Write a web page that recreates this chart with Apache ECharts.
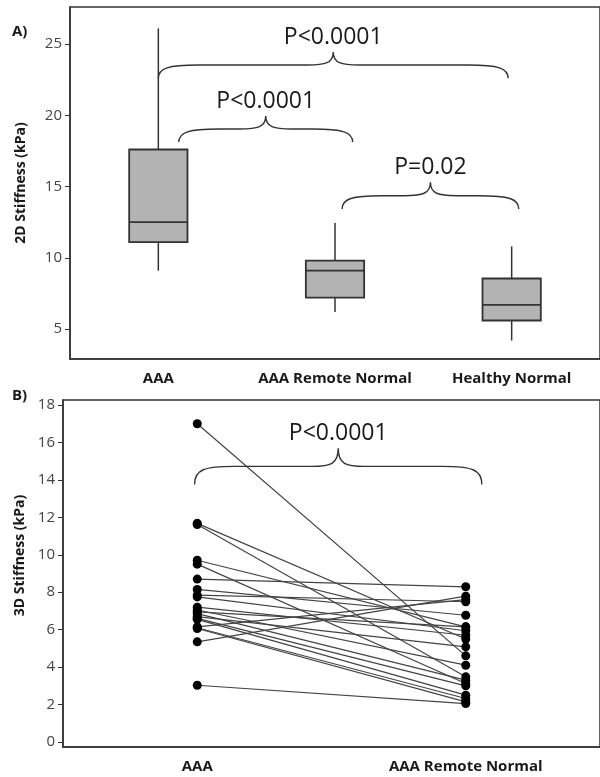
<!DOCTYPE html>
<html>
<head>
<meta charset="utf-8">
<script src="https://cdn.jsdelivr.net/npm/echarts@6/dist/echarts.min.js"></script>
<style>html,body{margin:0;padding:0;background:#fff;}#c{width:600px;height:777px;}</style>
</head>
<body>
<div id="c"></div>
<script>
// ---- Panel A data (2D stiffness boxplots) ----
const categoriesA = ['AAA', 'AAA Remote Normal', 'Healthy Normal'];
const boxMin    = [9.1, 6.2, 4.2];
const boxQ1     = [11.1, 7.2, 5.6];
const boxMedian = [12.5, 9.1, 6.7];
const boxQ3     = [17.6, 9.8, 8.55];
const boxMax    = [26.1, 12.45, 10.8];
const ticksA    = [5, 10, 15, 20, 25];

// ---- Panel B data (paired 3D stiffness) ----
const categoriesB = ['AAA', 'AAA Remote Normal'];
const aaa3D    = [17.0, 11.68, 11.62, 9.71, 9.5, 8.7, 8.15, 7.84, 7.75, 7.2, 7.05, 6.95, 6.86, 6.7, 6.6, 6.55, 6.15, 6.1, 6.06, 5.35, 3.03];
const remote3D = [4.6, 5.5, 3.48, 6.15, 3.12, 8.29, 6.77, 7.49, 5.94, 5.7, 4.1, 6.15, 3.3, 5.08, 3.0, 2.5, 7.6, 2.32, 2.14, 7.79, 2.05];
const ticksB   = [0, 2, 4, 6, 8, 10, 12, 14, 16, 18];

// ---- significance braces (category position from/to, value at ends / at peak) ----
const braceFromA  = [0.0, 0.116, 1.04];
const braceToA    = [1.98, 1.10, 2.04];
const braceBaseA  = [22.6, 18.12, 13.42];
const bracePeakA  = [24.45, 19.95, 15.3];
const braceLabelA = ['P<0.0001', 'P<0.0001', 'P=0.02'];

const braceFromB  = [-0.01];
const braceToB    = [1.06];
const braceBaseB  = [13.76];
const bracePeakB  = [15.69];
const braceLabelB = ['P<0.0001'];

const FONT = 'Open Sans';
const chart = echarts.init(document.getElementById('c'), null, {renderer: 'canvas'});

function boxRender(params, api) {
  const i = api.value(0);
  const pMin = api.coord([i, api.value(1)]);
  const pQ1 = api.coord([i, api.value(2)]);
  const pMed = api.coord([i, api.value(3)]);
  const pQ3 = api.coord([i, api.value(4)]);
  const pMax = api.coord([i, api.value(5)]);
  const w = api.size([1, 0])[0] * 0.33;
  const x = pMin[0];
  const stroke = '#333';
  return {
    type: 'group',
    children: [
      {type: 'line', shape: {x1: x, y1: pMin[1], x2: x, y2: pQ1[1]}, style: {stroke: stroke, lineWidth: 1.5}},
      {type: 'line', shape: {x1: x, y1: pQ3[1], x2: x, y2: pMax[1]}, style: {stroke: stroke, lineWidth: 1.5}},
      {type: 'rect', shape: {x: x - w / 2, y: pQ3[1], width: w, height: pQ1[1] - pQ3[1]}, style: {fill: '#b3b3b3', stroke: stroke, lineWidth: 1.8}},
      {type: 'line', shape: {x1: x - w / 2, y1: pMed[1], x2: x + w / 2, y2: pMed[1]}, style: {stroke: stroke, lineWidth: 1.8}}
    ]
  };
}

function makeBraceRender(labels) {
  return function (params, api) {
    const from = api.value(0), to = api.value(1), base = api.value(2), peak = api.value(3);
    const c0 = api.coord([0, base]);
    const c1 = api.coord([1, base]);
    const step = c1[0] - c0[0];
    const x0 = c0[0] + step * from;
    const x1 = c0[0] + step * to;
    const yEnd = c0[1];
    const yPeak = api.coord([0, peak])[1];
    const yMid = (yEnd + yPeak) / 2;
    const xm = (x0 + x1) / 2;
    const r = 40, r2 = 26;
    const path =
      'M' + x0 + ',' + yEnd +
      ' C' + x0 + ',' + (yMid + 3) + ' ' + (x0 + 10) + ',' + yMid + ' ' + (x0 + r) + ',' + yMid +
      ' L' + (xm - r2) + ',' + yMid +
      ' C' + (xm - 8) + ',' + yMid + ' ' + xm + ',' + (yMid - 2) + ' ' + xm + ',' + yPeak +
      ' C' + xm + ',' + (yMid - 2) + ' ' + (xm + 8) + ',' + yMid + ' ' + (xm + r2) + ',' + yMid +
      ' L' + (x1 - r) + ',' + yMid +
      ' C' + (x1 - 10) + ',' + yMid + ' ' + x1 + ',' + (yMid + 3) + ' ' + x1 + ',' + yEnd;
    return {
      type: 'group',
      children: [
        {type: 'path', shape: {pathData: path}, style: {fill: 'none', stroke: '#333', lineWidth: 1.4}},
        {type: 'text', x: xm, y: yPeak - 3, style: {text: labels[params.dataIndex], fill: '#1a1a1a', font: '23px "' + FONT + '"', textAlign: 'center', textVerticalAlign: 'bottom'}}
      ]
    };
  };
}

const axisLabelStyle = {color: '#444', fontSize: 15, fontFamily: FONT};
const catLabelStyle = {color: '#1a1a1a', fontSize: 15, fontWeight: 'bold', fontFamily: FONT};

const lineSeries = aaa3D.map(function (v, i) {
  return {
    type: 'line', xAxisIndex: 1, yAxisIndex: 1,
    data: [v, remote3D[i]],
    symbol: 'circle', symbolSize: 9,
    itemStyle: {color: '#000'},
    lineStyle: {color: '#444', width: 1.2},
    z: 3
  };
});

const option = {
  animation: false,
  backgroundColor: '#fff',
  grid: [
    {left: 70, top: 7, width: 540, height: 352, show: true, borderColor: '#333', borderWidth: 1.5, backgroundColor: 'transparent'},
    {left: 63, top: 400, width: 550, height: 347, show: true, borderColor: '#333', borderWidth: 1.5, backgroundColor: 'transparent'}
  ],
  xAxis: [
    {type: 'category', gridIndex: 0, data: categoriesA,
     axisLine: {onZero: false, lineStyle: {color: '#333', width: 1.5}},
     axisTick: {alignWithLabel: true, length: 3, lineStyle: {color: '#333'}},
     axisLabel: Object.assign({margin: 12, interval: 0}, catLabelStyle)},
    {type: 'category', gridIndex: 1, data: categoriesB,
     axisLine: {onZero: false, lineStyle: {color: '#333', width: 1.5}},
     axisTick: {alignWithLabel: true, length: 3, lineStyle: {color: '#333'}},
     axisLabel: Object.assign({margin: 12, interval: 0}, catLabelStyle)}
  ],
  yAxis: [
    {type: 'value', gridIndex: 0, min: 2.9, max: 27.6,
     name: '2D Stiffness (kPa)', nameLocation: 'middle', nameGap: 42, nameRotate: 90,
     nameTextStyle: {color: '#1a1a1a', fontSize: 14, fontWeight: 'bold', fontFamily: FONT},
     axisLine: {show: true, onZero: false, lineStyle: {color: '#333', width: 1.5}},
     axisTick: {show: true, length: 5, lineStyle: {color: '#333'}, customValues: ticksA},
     axisLabel: Object.assign({margin: 8, customValues: ticksA}, axisLabelStyle),
     splitLine: {show: false}},
    {type: 'value', gridIndex: 1, min: -0.27, max: 18.27,
     name: '3D Stiffness (kPa)', nameLocation: 'middle', nameGap: 33, nameRotate: 90,
     nameTextStyle: {color: '#1a1a1a', fontSize: 14, fontWeight: 'bold', fontFamily: FONT, padding: [0, 0, 0, 36]},
     axisLine: {show: true, onZero: false, lineStyle: {color: '#333', width: 1.5}},
     axisTick: {show: true, length: 5, lineStyle: {color: '#333'}, customValues: ticksB},
     axisLabel: Object.assign({margin: 8, customValues: ticksB}, axisLabelStyle),
     splitLine: {show: false}}
  ],
  graphic: [
    {type: 'text', left: 12, top: 24, style: {text: 'A)', fill: '#1a1a1a', font: 'bold 15px "' + FONT + '"'}},
    {type: 'text', left: 12, top: 388, style: {text: 'B)', fill: '#1a1a1a', font: 'bold 15px "' + FONT + '"'}}
  ],
  series: [
    {type: 'custom', xAxisIndex: 0, yAxisIndex: 0, renderItem: boxRender,
     data: categoriesA.map(function (c, i) { return [i, boxMin[i], boxQ1[i], boxMedian[i], boxQ3[i], boxMax[i]]; }),
     z: 2},
    {type: 'custom', xAxisIndex: 0, yAxisIndex: 0, renderItem: makeBraceRender(braceLabelA), clip: false,
     data: braceFromA.map(function (f, i) { return [f, braceToA[i], braceBaseA[i], bracePeakA[i]]; }),
     z: 4},
    {type: 'custom', xAxisIndex: 1, yAxisIndex: 1, renderItem: makeBraceRender(braceLabelB), clip: false,
     data: braceFromB.map(function (f, i) { return [f, braceToB[i], braceBaseB[i], bracePeakB[i]]; }),
     z: 4}
  ].concat(lineSeries)
};
chart.setOption(option);
</script>
</body>
</html>
